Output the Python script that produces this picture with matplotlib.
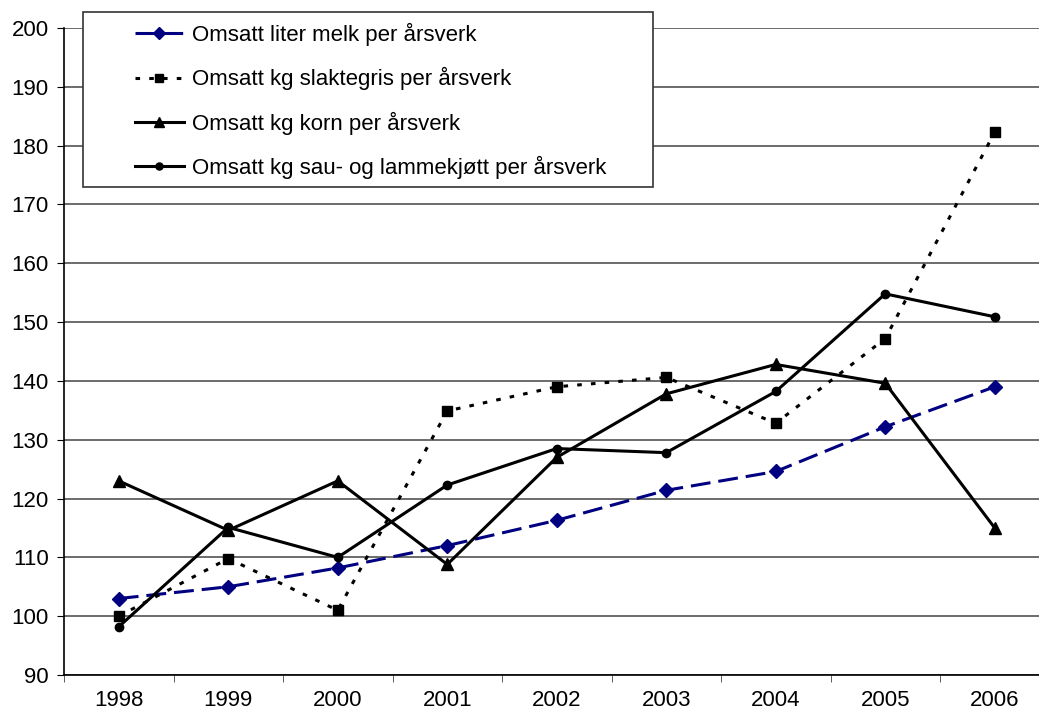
import matplotlib.pyplot as plt
from matplotlib.patches import Rectangle

# aar og serier (indeks, 1998 = 100)
years = ['1998', '1999', '2000', '2001', '2002', '2003', '2004', '2005', '2006']
melk = [103.0, 105.0, 108.2, 112.0, 116.3, 121.4, 124.6, 132.2, 139.0]
slaktegris = [100.0, 109.8, 101.0, 134.9, 139.0, 140.6, 132.8, 147.2, 182.3]
korn = [123.0, 114.6, 123.0, 108.8, 127.0, 137.8, 142.8, 139.6, 115.0]
sau = [98.2, 115.1, 110.0, 122.3, 128.5, 127.8, 138.2, 154.8, 150.9]

labels = ['Omsatt liter melk per årsverk',
          'Omsatt kg slaktegris per årsverk',
          'Omsatt kg korn per årsverk',
          'Omsatt kg sau- og lammekjøtt per årsverk']

plt.rcParams['font.family'] = ['Liberation Sans', 'DejaVu Sans']

fig = plt.figure(figsize=(10.39, 7.15), dpi=100)
ax = fig.add_axes([64 / 1039, 1 - 675 / 715, 985.5 / 1039, 647 / 715])

x = list(range(len(years)))
ax.plot(x, melk, color='#000080', lw=2.2, dashes=(6.5, 2.6), marker='D', ms=7, label=labels[0])
ax.plot(x, slaktegris, color='black', lw=2.2, dashes=(1.5, 3), marker='s', ms=7.5, label=labels[1])
ax.plot(x, korn, color='black', lw=2.2, marker='^', ms=8.5, label=labels[2])
ax.plot(x, sau, color='black', lw=2.2, marker='o', ms=6, label=labels[3])

ax.set_xlim(-0.5, 8.5)
ax.set_ylim(90, 200)
ax.set_yticks(range(90, 201, 10))
ax.set_xticks(x)
ax.set_xticklabels(years)
ax.set_xticks([i + 0.5 for i in range(-1, 9)], minor=True)
ax.tick_params(axis='x', which='major', length=0, pad=11, labelsize=16)
ax.tick_params(axis='x', which='minor', length=5, direction='out', color='#444444')
ax.tick_params(axis='y', length=5, direction='out', labelsize=16, pad=6)

ax.yaxis.grid(True, color='#444444', lw=1.1)
ax.set_axisbelow(True)
for s in ['top', 'right']:
    ax.spines[s].set_visible(False)
ax.spines['left'].set_linewidth(1.2)
ax.spines['bottom'].set_linewidth(1.2)

# legende med egen ramme
fig.patches.append(Rectangle((83 / 1039, 1 - 187 / 715), 570 / 1039, 175 / 715,
                             transform=fig.transFigure, facecolor='white',
                             edgecolor='#333333', lw=1.2, zorder=5))
leg = fig.legend(loc='upper left', bbox_to_anchor=(135 / 1039, 1 - 23 / 715),
                 frameon=False, fontsize=16, handlelength=2.2, handletextpad=0.35,
                 labelspacing=0.95, borderpad=0, borderaxespad=0, markerscale=0.85)
leg.set_zorder(6)

fig.savefig('out.png', dpi=100)
